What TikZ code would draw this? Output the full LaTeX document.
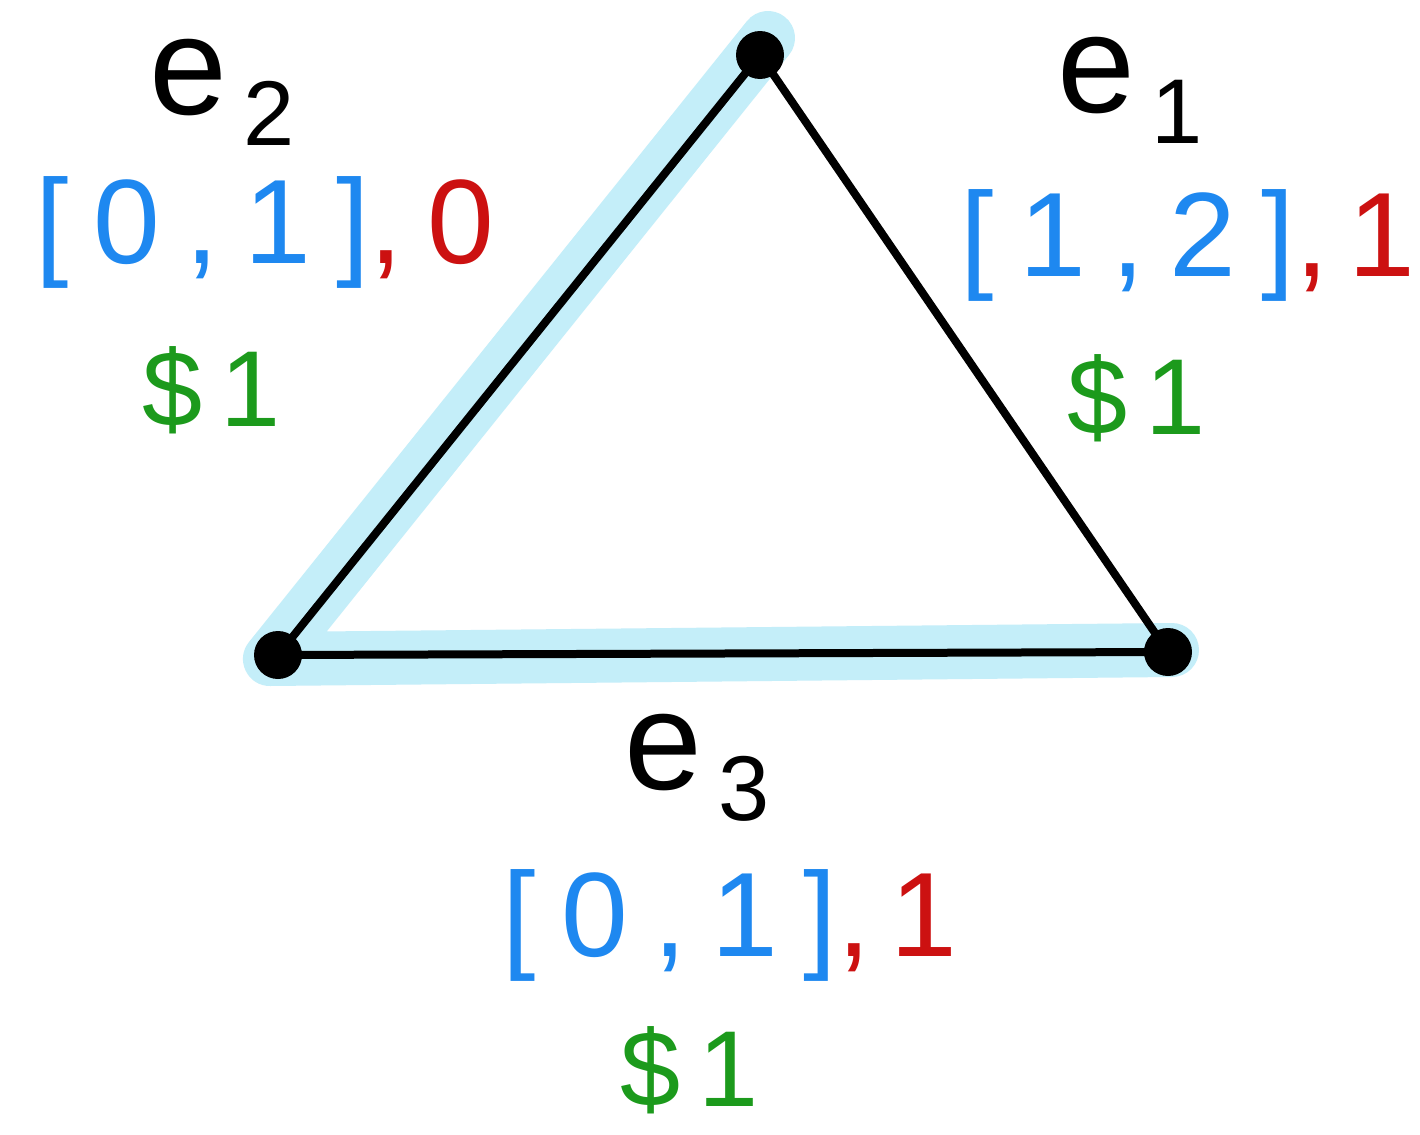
\documentclass[tikz,border=0pt]{standalone}
\usepackage{fontspec}
\setmainfont{Liberation Sans}
\usetikzlibrary{backgrounds}
\definecolor{hlblue}{HTML}{C4EEF9}
\definecolor{inkblue}{HTML}{1E88F0}
\definecolor{inkred}{HTML}{CC1111}
\definecolor{inkgreen}{HTML}{1C9A1C}
\tikzset{
  vertex/.style={circle,fill=black,inner sep=0pt,minimum size=24pt},
  edgeline/.style={line width=4pt,black,line join=round},
  hilite/.style={line width=27pt,hlblue,line cap=round,line join=round},
  elabel/.style={font=\fontsize{70}{70}\selectfont,inner sep=0pt},
  ilabel/.style={font=\fontsize{60}{60}\selectfont\addfontfeature{LetterSpace=21},inner sep=0pt},
  clabel/.style={font=\fontsize{54}{54}\selectfont,text=inkgreen,inner sep=0pt}
}
\newcommand{\esub}[1]{e\raisebox{-0.22em}{\fontsize{46}{46}\selectfont\,#1}}
\begin{document}
\begin{tikzpicture}[x=0.5pt,y=-0.5pt]
\useasboundingbox (0,0) rectangle (1420,1135);
\node[vertex] (A) at (760,55) {};
\node[vertex] (B) at (278,655) {};
\node[vertex] (C) at (1168,652) {};
\coordinate (Atip) at (768,38);
\coordinate (Cend) at (1172,650);
\begin{scope}[on background layer]
\fill[white] (0,0) rectangle (1420,1135);
\draw[hilite] (Atip) -- ([xshift=-4,yshift=-2]B.center) -- (Cend);
\draw[edgeline] (A.center) -- (B.center) -- (C.center) -- cycle;
\end{scope}
\node[elabel] (e2) at (222,92) {\esub{2}};
\node[ilabel] (lab2) at (265,232) {\textcolor{inkblue}{[0,1]}\textcolor{inkred}{,0}};
\node[clabel] (cost2) at (212,390) {\$\,1};
\node[elabel] (e1) at (1130,90) {\esub{1}};
\node[ilabel] (lab1) at (1188,245) {\textcolor{inkblue}{[1,2]}\textcolor{inkred}{,\,1}};
\node[clabel] (cost1) at (1137,398) {\$\,1};
\node[elabel] (e3) at (697,768) {\esub{3}};
\node[ilabel] (lab3) at (730,925) {\textcolor{inkblue}{[0,1]}\textcolor{inkred}{,\,1}};
\node[clabel] (cost3) at (690,1070) {\$\,1};
\end{tikzpicture}
\end{document}
